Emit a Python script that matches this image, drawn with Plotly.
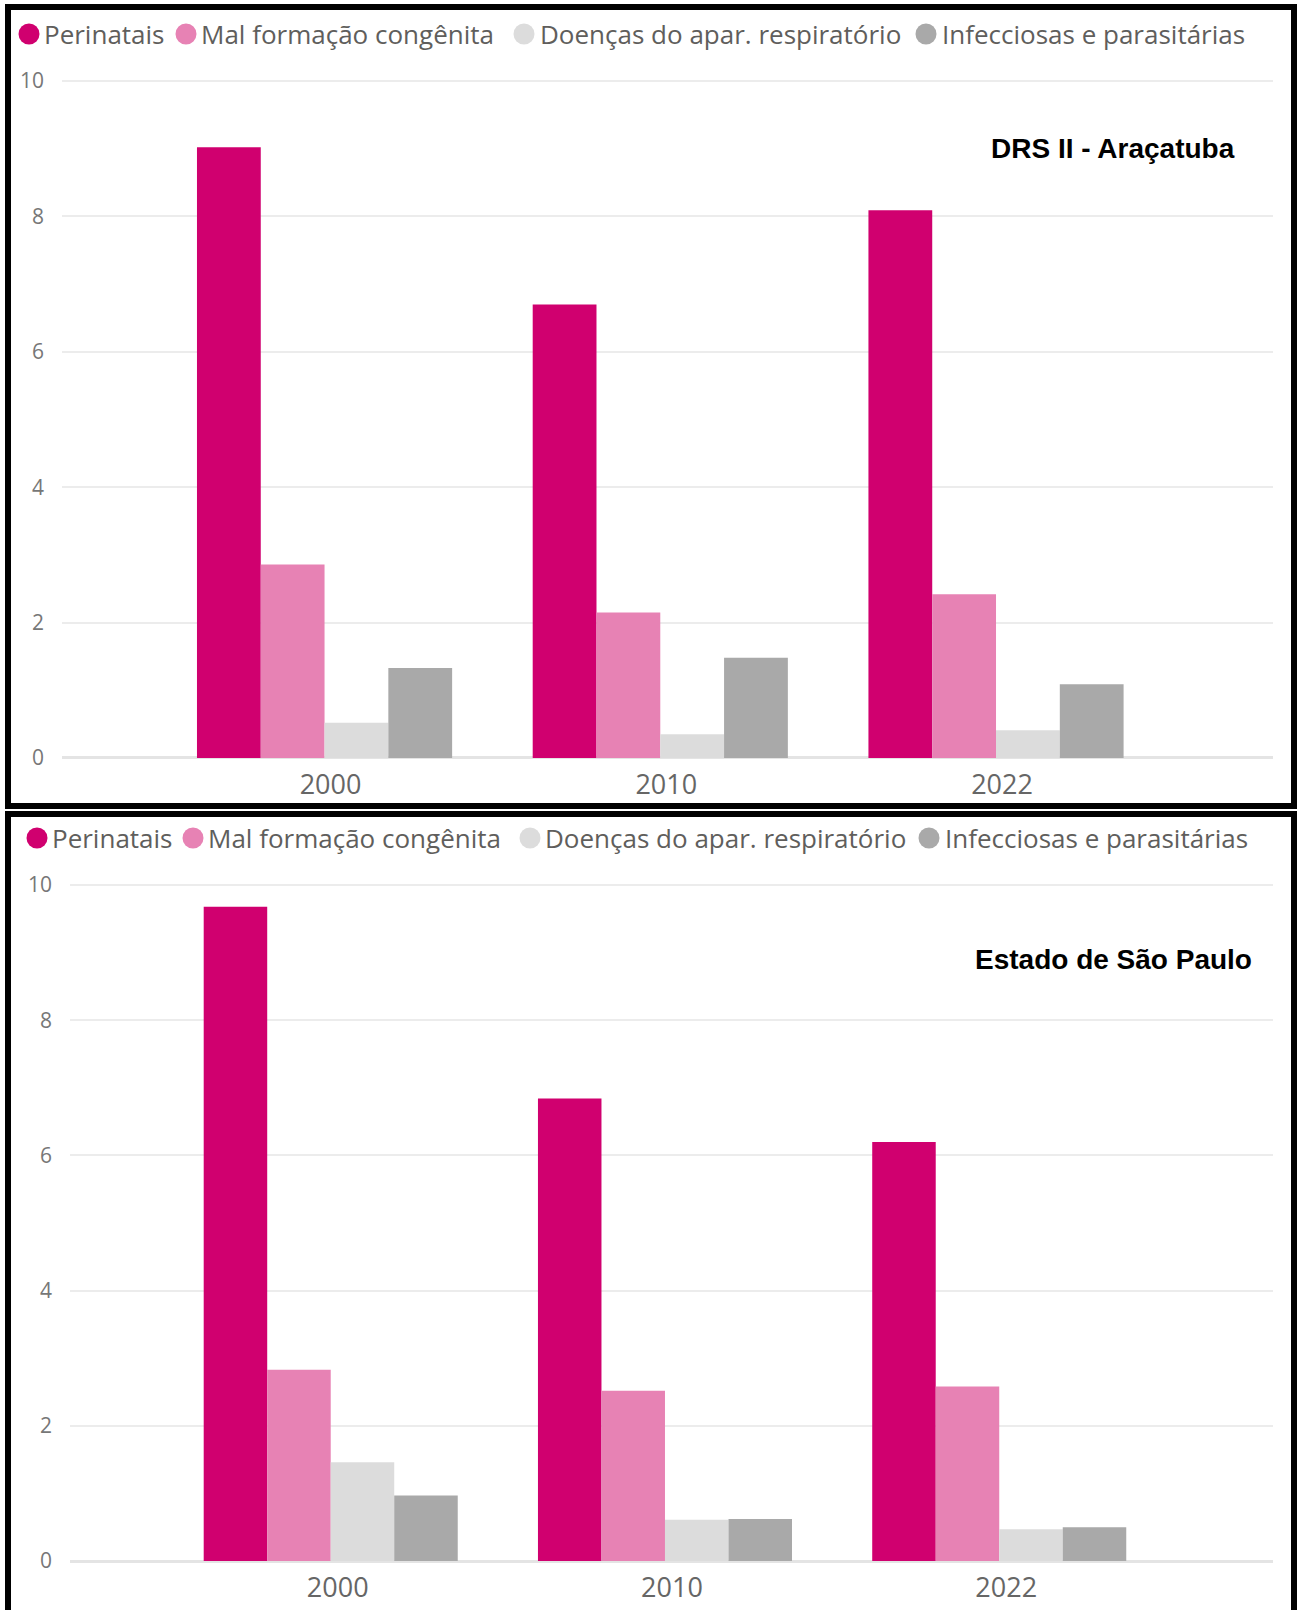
import plotly.graph_objects as go

W, H = 1301, 1610

years = ["2000", "2010", "2022"]
series_names = ["Perinatais", "Mal formação congênita", "Doenças do apar. respiratório", "Infecciosas e parasitárias"]
series_colors = ["#D0006F", "#E782B4", "#DCDCDC", "#A9A9A9"]

drs_perinatais = [9.02, 6.70, 8.09]
drs_malformacao = [2.86, 2.15, 2.42]
drs_respiratorio = [0.52, 0.35, 0.41]
drs_infecciosas = [1.33, 1.48, 1.09]

sp_perinatais = [9.68, 6.84, 6.20]
sp_malformacao = [2.83, 2.52, 2.58]
sp_respiratorio = [1.46, 0.61, 0.47]
sp_infecciosas = [0.97, 0.62, 0.50]

y_ticks = [0, 2, 4, 6, 8, 10]
panel_titles = ["DRS II - Araçatuba", "Estado de São Paulo"]

drs = [drs_perinatais, drs_malformacao, drs_respiratorio, drs_infecciosas]
sp = [sp_perinatais, sp_malformacao, sp_respiratorio, sp_infecciosas]

fig = go.Figure()
for name, color, vals in zip(series_names, series_colors, drs):
    fig.add_trace(go.Bar(x=years, y=vals, name=name, marker=dict(color=color, line=dict(width=0)),
                         xaxis="x", yaxis="y", showlegend=False))
for name, color, vals in zip(series_names, series_colors, sp):
    fig.add_trace(go.Bar(x=years, y=vals, name=name, marker=dict(color=color, line=dict(width=0)),
                         xaxis="x2", yaxis="y2", showlegend=False))


def px_x(p):
    return p / W


def px_y(p):
    return 1 - p / H


Y_TOP = 10.06  # small headroom so the gridline at 10 is drawn inside the plot area

axis_font = "Open Sans, Noto Sans, sans-serif"
common_x = dict(type="category", showgrid=False, zeroline=False, showline=False, ticks="",
                tickfont=dict(family=axis_font, size=27, color="#666666"), ticklabelstandoff=8,
                automargin=False, fixedrange=True)
common_y = dict(range=[0, Y_TOP], tickvals=y_ticks, showgrid=True, gridcolor="#ECECEC", gridwidth=2,
                zeroline=True, zerolinecolor="#E4E4E4", zerolinewidth=3, showline=False, ticks="",
                tickfont=dict(family=axis_font, size=21, color="#777777"), ticklabelstandoff=17,
                automargin=False, fixedrange=True)

# pixel positions of value 0 and value 10 in each panel
top_zero, top_ten = 758, 81
bot_zero, bot_ten = 1561, 885
top_dom_top = top_zero - (top_zero - top_ten) * Y_TOP / 10
bot_dom_top = bot_zero - (bot_zero - bot_ten) * Y_TOP / 10

fig.update_layout(
    template="none",
    width=W, height=H,
    margin=dict(l=0, r=0, t=0, b=0, pad=0, autoexpand=False),
    paper_bgcolor="white", plot_bgcolor="white",
    barmode="group", bargap=0.24, bargroupgap=0,
    showlegend=False,
    xaxis=dict(common_x, domain=[px_x(62), px_x(1273)], range=[-0.782, 2.825], anchor="y",
               ticklabelshift=6),
    yaxis=dict(common_y, domain=[px_y(top_zero), px_y(top_dom_top)], anchor="x"),
    xaxis2=dict(common_x, domain=[px_x(70), px_x(1273)], range=[-0.78, 2.819], anchor="y2",
                ticklabelshift=7),
    yaxis2=dict(common_y, domain=[px_y(bot_zero), px_y(bot_dom_top)], anchor="x2"),
)

shapes = []
annotations = []
# panel frames
shapes.append(dict(type="rect", xref="paper", yref="paper", x0=px_x(8), x1=px_x(1294),
                   y0=px_y(806), y1=px_y(7), line=dict(color="black", width=6), fillcolor="rgba(0,0,0,0)"))
shapes.append(dict(type="rect", xref="paper", yref="paper", x0=px_x(8), x1=px_x(1294),
                   y0=px_y(1616), y1=px_y(814), line=dict(color="black", width=6), fillcolor="rgba(0,0,0,0)"))

# legends (one per panel)
legend_rows = [
    dict(cy=34, circles=[29, 186, 524, 926], texts=[44, 201, 540, 942]),
    dict(cy=838, circles=[37, 193, 530, 929], texts=[52, 208, 545, 945]),
]
r = 10.5
for row in legend_rows:
    for name, color, cx, tx in zip(series_names, series_colors, row["circles"], row["texts"]):
        shapes.append(dict(type="circle", xref="paper", yref="paper",
                           x0=px_x(cx - r), x1=px_x(cx + r), y0=px_y(row["cy"] + r), y1=px_y(row["cy"] - r),
                           fillcolor=color, line=dict(width=0)))
        annotations.append(dict(text=name, xref="paper", yref="paper", x=px_x(tx - 2), y=px_y(row["cy"]),
                                xanchor="left", yanchor="middle", showarrow=False,
                                font=dict(family=axis_font, size=26, color="#605E5C")))

# panel titles
title_pos = [(1237, 149), (1254, 959)]
for t, (tx, ty) in zip(panel_titles, title_pos):
    annotations.append(dict(text="<b>" + t + "</b>", xref="paper", yref="paper", x=px_x(tx), y=px_y(ty),
                            xanchor="right", yanchor="middle", showarrow=False,
                            font=dict(family="Liberation Sans, Arial, sans-serif", size=28, color="black")))

fig.update_layout(shapes=shapes, annotations=annotations)
fig.write_html("out.html")
